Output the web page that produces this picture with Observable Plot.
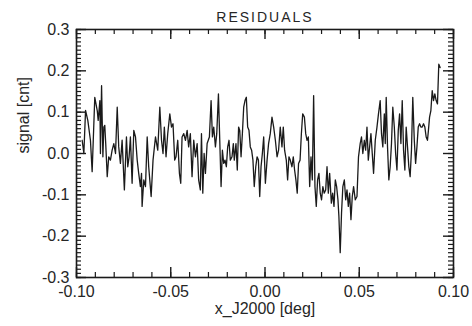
<!DOCTYPE html>
<html>
<head>
<meta charset="utf-8">
<script src="https://cdn.jsdelivr.net/npm/d3@7"></script>
<script src="https://cdn.jsdelivr.net/npm/@observablehq/plot@0.6"></script>
<style>
  html, body { margin: 0; padding: 0; background: #fff; }
</style>
</head>
<body>
<div id="chart"></div>
<script>
const title = "RESIDUALS";
const xLabel = "x_J2000 [deg]";
const yLabel = "signal [cnt]";
const xMajorTicks = [-0.10, -0.05, 0.00, 0.05, 0.10];
const yMajorTicks = [-0.3, -0.2, -0.1, 0.0, 0.1, 0.2, 0.3];

const xs = [
-0.0970,-0.0961,-0.0952,-0.0940,-0.0926,-0.0917,-0.0903,-0.0890,-0.0885,-0.0876,
-0.0873,-0.0867,-0.0860,-0.0855,-0.0850,-0.0845,-0.0837,-0.0829,-0.0820,-0.0811,
-0.0802,-0.0793,-0.0784,-0.0776,-0.0767,-0.0758,-0.0746,-0.0735,-0.0728,-0.0721,
-0.0714,-0.0705,-0.0696,-0.0687,-0.0678,-0.0670,-0.0661,-0.0655,-0.0652,-0.0643,
-0.0634,-0.0625,-0.0617,-0.0604,-0.0594,-0.0581,-0.0569,-0.0558,-0.0549,-0.0541,
-0.0534,-0.0525,-0.0516,-0.0505,-0.0496,-0.0488,-0.0479,-0.0472,-0.0463,-0.0454,
-0.0447,-0.0440,-0.0431,-0.0422,-0.0413,-0.0405,-0.0396,-0.0387,-0.0378,-0.0369,
-0.0360,-0.0352,-0.0343,-0.0337,-0.0330,-0.0323,-0.0316,-0.0307,-0.0295,-0.0286,
-0.0279,-0.0272,-0.0263,-0.0256,-0.0247,-0.0240,-0.0233,-0.0226,-0.0219,-0.0212,
-0.0205,-0.0198,-0.0191,-0.0184,-0.0175,-0.0168,-0.0163,-0.0154,-0.0147,-0.0140,
-0.0134,-0.0127,-0.0120,-0.0113,-0.0106,-0.0099,-0.0092,-0.0085,-0.0078,-0.0071,
-0.0064,-0.0057,-0.0049,-0.0042,-0.0035,-0.0028,-0.0021,-0.0014,-0.0007,0.0002,
0.0011,0.0019,0.0028,0.0037,0.0046,0.0055,0.0064,0.0072,0.0081,0.0090,
0.0097,0.0104,0.0113,0.0120,0.0127,0.0134,0.0143,0.0150,0.0157,0.0164,
0.0171,0.0178,0.0186,0.0193,0.0200,0.0209,0.0216,0.0223,0.0230,0.0237,
0.0244,0.0251,0.0258,0.0265,0.0272,0.0279,0.0286,0.0293,0.0300,0.0307,
0.0314,0.0322,0.0329,0.0336,0.0343,0.0352,0.0359,0.0366,0.0373,0.0380,
0.0387,0.0392,0.0399,0.0406,0.0413,0.0421,0.0428,0.0435,0.0442,0.0449,
0.0456,0.0463,0.0470,0.0479,0.0488,0.0496,0.0505,0.0512,0.0519,0.0527,
0.0534,0.0541,0.0548,0.0555,0.0562,0.0569,0.0576,0.0585,0.0594,0.0602,
0.0611,0.0618,0.0625,0.0633,0.0638,0.0643,0.0650,0.0657,0.0664,0.0671,
0.0678,0.0686,0.0693,0.0700,0.0707,0.0714,0.0721,0.0728,0.0735,0.0742,
0.0749,0.0756,0.0763,0.0770,0.0777,0.0784,0.0792,0.0799,0.0806,0.0813,
0.0820,0.0827,0.0834,0.0841,0.0848,0.0855,0.0862,0.0867,0.0873,0.0880,
0.0887,0.0894,0.0901,0.0908,0.0915,0.0922,0.0929
];

const signal = [
0.032,0.000,0.104,0.080,0.032,-0.044,0.136,0.104,0.080,0.128,
0.000,0.164,-0.008,0.064,0.068,0.024,-0.056,-0.008,-0.016,0.008,
0.024,0.000,0.112,0.016,-0.024,0.032,-0.088,0.040,-0.032,-0.008,
0.040,-0.072,0.056,0.040,-0.016,-0.048,-0.080,-0.048,-0.128,-0.064,
-0.080,0.040,-0.032,-0.104,-0.016,0.040,0.008,0.112,0.032,0.000,
0.064,-0.008,0.048,0.096,0.064,0.072,-0.016,-0.008,0.032,-0.048,
-0.072,0.040,0.048,0.032,0.056,0.016,0.048,-0.056,0.032,-0.008,
0.024,-0.064,-0.088,0.048,-0.096,0.000,-0.048,0.024,0.040,0.128,
0.040,0.064,0.016,0.048,0.144,0.032,-0.080,0.008,-0.024,-0.016,
-0.032,0.016,0.032,-0.016,-0.008,0.024,-0.016,0.024,-0.040,0.064,
0.056,-0.008,0.048,0.112,0.128,0.136,0.064,0.056,0.016,0.008,
-0.016,-0.080,-0.032,-0.008,-0.016,-0.104,-0.032,0.000,0.040,-0.072,
-0.016,0.024,0.048,0.088,0.064,0.032,-0.008,0.008,0.064,0.016,
0.064,0.008,-0.016,-0.064,-0.008,-0.016,-0.032,-0.008,-0.040,-0.064,
-0.096,-0.024,-0.016,0.048,0.096,0.088,0.048,0.032,0.040,-0.080,
-0.008,-0.064,0.140,-0.080,-0.128,-0.064,-0.048,-0.096,-0.112,-0.080,
-0.096,-0.088,-0.032,-0.096,-0.048,-0.120,-0.096,-0.128,-0.064,-0.080,
-0.112,-0.152,-0.240,-0.144,-0.080,-0.064,-0.112,-0.088,-0.128,-0.096,
-0.160,-0.104,-0.080,-0.112,-0.104,-0.008,0.024,0.040,0.000,0.032,
0.008,0.064,-0.016,0.016,0.048,0.000,-0.048,0.032,0.064,0.096,
0.128,0.048,0.016,0.096,0.024,0.136,0.016,-0.064,-0.032,0.024,
0.112,0.064,0.000,-0.040,0.056,0.096,0.024,0.128,0.008,-0.040,
0.064,0.016,-0.032,-0.056,0.008,0.136,0.032,-0.024,0.016,0.064,
0.072,0.064,0.064,0.072,0.064,0.040,0.032,0.056,0.088,0.104,
0.152,0.128,0.144,0.128,0.120,0.216,0.208
];

const data = xs.map((x, i) => ({x, y: signal[i]}));

const ink = "#1a1a1a";
const textColor = "#262626";

const W = 472, H = 326;
const mTop = 29, mBottom = 49, mLeft = 76, mRight = 19;
const xDomain = [-0.1, 0.1];
const yDomain = [-0.3, 0.3];
const frameW = W - mLeft - mRight;
const frameH = H - mTop - mBottom;
// tick lengths, converted from pixels into data units of each scale
const xPerPx = (xDomain[1] - xDomain[0]) / frameW;
const yPerPx = (yDomain[1] - yDomain[0]) / frameH;
const minorLen = 5, majorLen = 10;

const xMinor = d3.ticks(xDomain[0], xDomain[1], 20);
const yMinor = d3.ticks(yDomain[0], yDomain[1], 60);

function xTicks(values, len, sw) {
  const d = len * yPerPx;
  return [
    Plot.ruleX(values, {x: v => v, y1: () => yDomain[0], y2: () => yDomain[0] + d, stroke: ink, strokeWidth: sw}),
    Plot.ruleX(values, {x: v => v, y1: () => yDomain[1] - d, y2: () => yDomain[1], stroke: ink, strokeWidth: sw})
  ];
}
function yTicks(values, len, sw) {
  const d = len * xPerPx;
  return [
    Plot.ruleY(values, {y: v => v, x1: () => xDomain[0], x2: () => xDomain[0] + d, stroke: ink, strokeWidth: sw}),
    Plot.ruleY(values, {y: v => v, x1: () => xDomain[1] - d, x2: () => xDomain[1], stroke: ink, strokeWidth: sw})
  ];
}

const chart = Plot.plot({
  width: W,
  height: H,
  marginTop: mTop,
  marginBottom: mBottom,
  marginLeft: mLeft,
  marginRight: mRight,
  style: {
    fontFamily: "'Liberation Sans', Arial, Helvetica, sans-serif",
    fontSize: "16px",
    color: textColor,
    background: "#fff",
    overflow: "visible"
  },
  x: {domain: xDomain, axis: null},
  y: {domain: yDomain, axis: null},
  marks: [
    // tick labels
    Plot.axisX({anchor: "bottom", ticks: xMajorTicks, tickSize: 0, tickPadding: 8, tickFormat: d => d.toFixed(2), label: null, fill: textColor}),
    Plot.axisY({anchor: "left", ticks: yMajorTicks, tickSize: 0, tickPadding: 7, tickFormat: d => d.toFixed(1), label: null, fill: textColor}),
    // data
    Plot.line(data, {x: "x", y: "y", stroke: ink, strokeWidth: 1.3, strokeLinejoin: "round"}),
    // titles
    Plot.text([title], {frameAnchor: "top", dy: -17, fontSize: 14, fill: textColor}),
    Plot.text([xLabel], {frameAnchor: "bottom", dy: 36, fill: textColor}),
    Plot.text([yLabel], {frameAnchor: "left", dx: -53, rotate: -90, fill: textColor}),
    // inward ticks on all four sides
    ...xTicks(xMinor, minorLen, 1.2),
    ...xTicks(xMajorTicks, majorLen, 1.4),
    ...yTicks(yMinor, minorLen, 1.2),
    ...yTicks(yMajorTicks, majorLen, 1.4),
    // frame
    Plot.frame({stroke: ink, strokeWidth: 1.6})
  ]
});

// widen the title's letter spacing to match the reference
d3.select(chart).selectAll("text").filter(function () { return this.textContent === title; })
  .style("letter-spacing", "2px");

document.getElementById("chart").appendChild(chart);
</script>
</body>
</html>
